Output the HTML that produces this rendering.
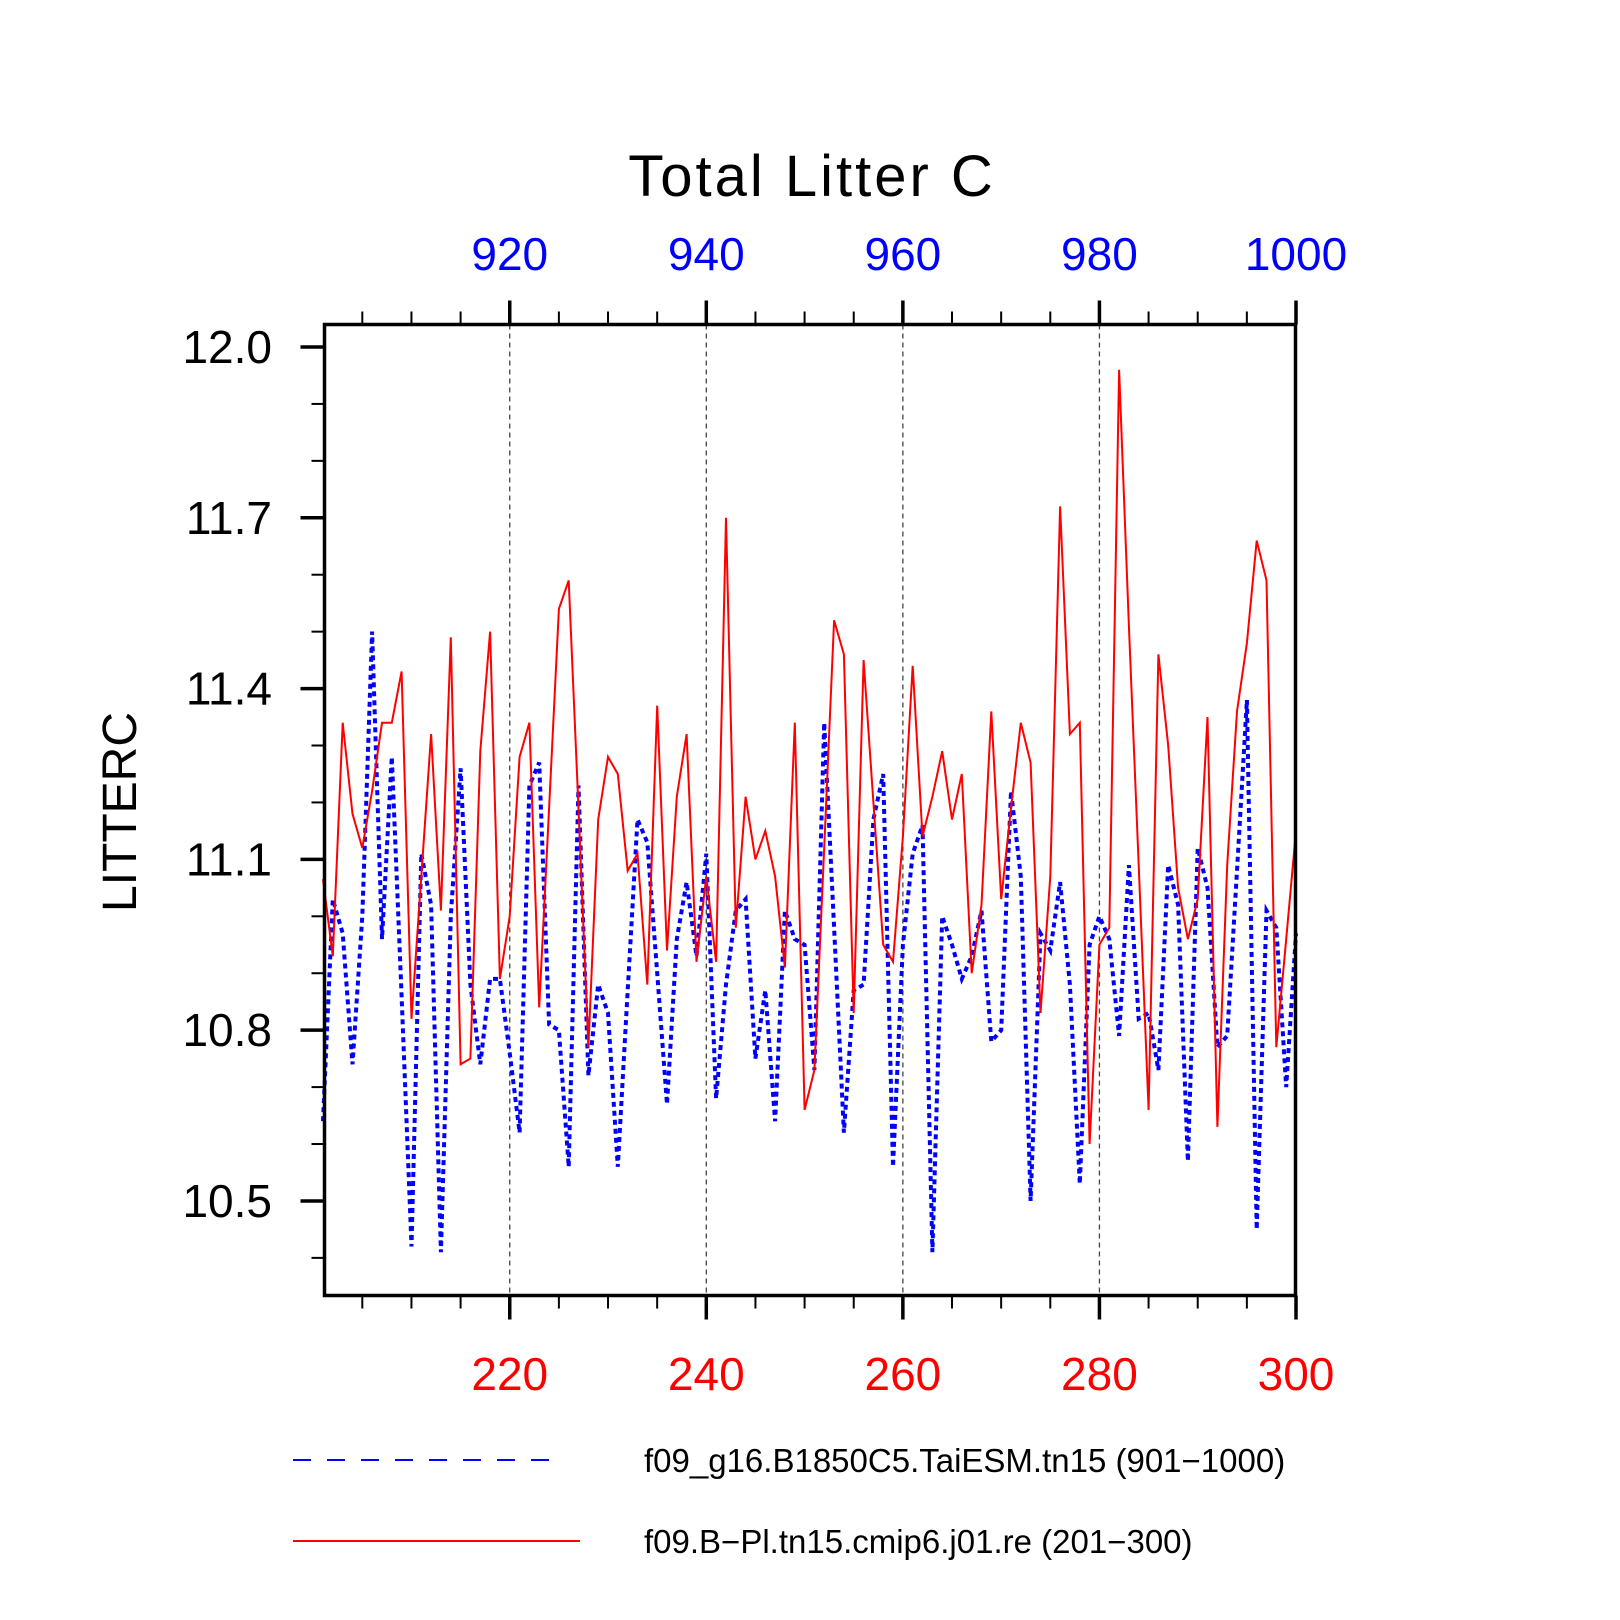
<!DOCTYPE html>
<html><head><meta charset="utf-8"><style>
body{margin:0;background:#fff;}
svg{display:block;font-family:"Liberation Sans",sans-serif;}
</style></head><body>
<svg id="chart" width="1620" height="1620" viewBox="0 0 1620 1620" xmlns="http://www.w3.org/2000/svg">
<rect x="0" y="0" width="1620" height="1620" fill="#fff"/>
<text x="812" y="196" font-size="58" text-anchor="middle" fill="#000" letter-spacing="3">Total Litter C</text>
<text x="0" y="0" font-size="48" text-anchor="middle" fill="#000" transform="translate(136,812) rotate(-90)">LITTERC</text>
<g id="grid"></g>
<g id="axes"></g>
<g id="series"></g>
<rect x="324.5" y="324.5" width="971" height="971" fill="none" stroke="#000" stroke-width="3.5"/>
<g>
<line x1="293" y1="1460" x2="559" y2="1460" stroke="#0000ff" stroke-width="2" stroke-dasharray="18 16"/>
<text x="644" y="1472" font-size="33" fill="#000">f09_g16.B1850C5.TaiESM.tn15 (901−1000)</text>
<line x1="293" y1="1541" x2="580" y2="1541" stroke="#ff0000" stroke-width="2"/>
<text x="644" y="1553" font-size="33" fill="#000">f09.B−Pl.tn15.cmip6.j01.re (201−300)</text>
</g>
</svg>
<script>
const years = Array.from({length:100},(_,i)=>201+i);
const redValues = [11.065,10.93,11.34,11.18,11.12,11.22,11.34,11.34,11.43,10.82,
11.07,11.32,11.01,11.49,10.74,10.75,11.29,11.50,10.89,11.00,
11.28,11.34,10.84,11.19,11.54,11.59,11.19,10.77,11.17,11.28,
11.25,11.08,11.11,10.88,11.37,10.94,11.21,11.32,10.92,11.07,
10.92,11.70,10.98,11.21,11.10,11.15,11.07,10.91,11.34,10.66,
10.73,11.12,11.52,11.46,10.83,11.45,11.20,10.95,10.92,11.14,
11.44,11.14,11.21,11.29,11.17,11.25,10.90,11.02,11.36,11.03,
11.19,11.34,11.27,10.83,11.07,11.72,11.32,11.34,10.60,10.95,
10.98,11.96,11.51,11.09,10.66,11.46,11.30,11.05,10.96,11.03,
11.35,10.63,11.09,11.36,11.48,11.66,11.59,10.77,10.96,11.15];
const blueValues = [10.64,11.03,10.97,10.74,11.00,11.50,10.96,11.28,10.86,10.42,
11.11,11.02,10.41,11.00,11.26,10.88,10.74,10.89,10.89,10.76,
10.62,11.23,11.27,10.81,10.80,10.56,11.23,10.72,10.88,10.83,
10.56,10.87,11.17,11.13,10.90,10.67,10.96,11.06,10.93,11.11,
10.68,10.88,11.01,11.03,10.75,10.87,10.64,11.01,10.96,10.95,
10.73,11.34,10.98,10.62,10.87,10.88,11.17,11.25,10.56,10.95,
11.11,11.16,10.41,11.00,10.95,10.89,10.93,11.01,10.78,10.80,
11.22,11.07,10.50,10.97,10.94,11.06,10.88,10.53,10.95,11.00,
10.96,10.79,11.09,10.82,10.83,10.73,11.09,11.02,10.57,11.12,
11.05,10.77,10.79,11.08,11.38,10.45,11.01,10.98,10.70,10.97];
const bottomTicks = [220,240,260,280,300];
const topTickLabels = ["920","940","960","980","1000"];
const yTicks = [10.5,10.8,11.1,11.4,11.7,12.0];
const yTickLabels = ["10.5","10.8","11.1","11.4","11.7","12.0"];

const L=324.5,R=1295.5,T=324.5,B=1295.5;
const xScale = yr => 323 + (yr-201)*973/99;
const yScale = v => 347 + (12-v)*569.3;
const NS="http://www.w3.org/2000/svg";
function mk(tag,attrs,parent){const e=document.createElementNS(NS,tag);for(const k in attrs)e.setAttribute(k,attrs[k]);parent.appendChild(e);return e;}
const grid=document.getElementById('grid'), axes=document.getElementById('axes'), series=document.getElementById('series');

bottomTicks.slice(0,4).forEach(t=>{
  const g=mk('line',{x1:xScale(t),x2:xScale(t),y1:T,y2:B,stroke:'#444','stroke-width':1.3,'stroke-dasharray':'5 4'},grid);
  
  
});
for(let yr=205;yr<=300;yr+=5){
  const major = yr%20===0;
  const len = major?24:13, w = major?3.5:2;
  const x=xScale(yr);
  const tb=mk('line',{x1:x,x2:x,y1:B,y2:B+len,stroke:'#000','stroke-width':w},axes);
  
  
  const tt=mk('line',{x1:x,x2:x,y1:T,y2:T-len,stroke:'#000','stroke-width':w},axes);
  
  
}
bottomTicks.forEach((t,i)=>{
  const b=mk('text',{x:xScale(t),y:1390,'font-size':46,'text-anchor':'middle',fill:'#ff0000'},axes);
  b.textContent=String(t);
  
  
  const tp=mk('text',{x:xScale(t),y:270,'font-size':46,'text-anchor':'middle',fill:'#0000ff'},axes);
  tp.textContent=topTickLabels[i];
  
  
});
for(let k=0;k<=17;k++){
  const v=10.4+k*0.1;
  const major = Math.abs(((v-10.5)/0.3)-Math.round((v-10.5)/0.3))<1e-6;
  const y=yScale(v);
  if(y<T-1||y>B+1) continue;
  const tk=mk('line',{x1:L,x2:L-(major?24:13),y1:y,y2:y,stroke:'#000','stroke-width':major?3.5:2},axes);
  
  
}
yTicks.forEach((v,i)=>{
  const t=mk('text',{x:272,y:yScale(v)+16,'font-size':46,'text-anchor':'end',fill:'#000'},axes);
  t.textContent=yTickLabels[i];
  
  
});
const bluePts=blueValues.map((v,i)=>xScale(years[i]).toFixed(1)+','+yScale(v).toFixed(1)).join(' ');
const bl=mk('polyline',{points:bluePts,fill:'none',stroke:'#0000ff','stroke-width':4,'stroke-dasharray':'5 4'},series);


const redPts=redValues.map((v,i)=>xScale(years[i]).toFixed(1)+','+yScale(v).toFixed(1)).join(' ');
const rl=mk('polyline',{points:redPts,fill:'none',stroke:'#ff0000','stroke-width':2},series);


</script>
</body></html>
